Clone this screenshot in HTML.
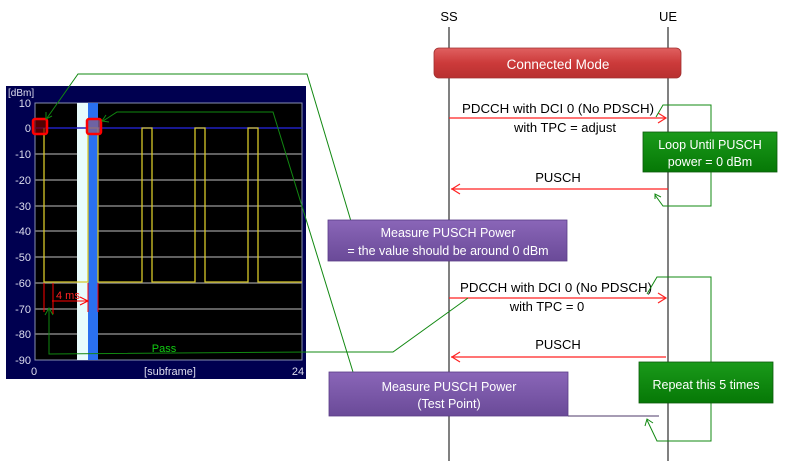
<!DOCTYPE html>
<html><head><meta charset="utf-8"><style>
html,body{margin:0;padding:0;background:#fff;width:787px;height:469px;overflow:hidden}
svg{display:block;font-family:"Liberation Sans",sans-serif}
</style></head><body>
<svg width="787" height="469" viewBox="0 0 787 469" xmlns="http://www.w3.org/2000/svg">
<defs>
<linearGradient id="gr" x1="0" y1="0" x2="0" y2="1"><stop offset="0" stop-color="#e06060"/><stop offset="0.5" stop-color="#cc3a3a"/><stop offset="1" stop-color="#b83030"/></linearGradient>
<linearGradient id="gp" x1="0" y1="0" x2="0" y2="1"><stop offset="0" stop-color="#8a66b8"/><stop offset="1" stop-color="#6a4a98"/></linearGradient>
<linearGradient id="gg" x1="0" y1="0" x2="0" y2="1"><stop offset="0" stop-color="#1a9a1a"/><stop offset="1" stop-color="#067806"/></linearGradient>
</defs>
<!-- chart panel -->
<rect x="6" y="86" width="300" height="293" fill="#000050"/>
<rect x="35" y="103" width="267" height="257" fill="#000" stroke="#8890b0" stroke-width="1"/>
<g stroke="#808080" stroke-width="1.5">
<line x1="35" y1="154" x2="302" y2="154"/><line x1="35" y1="180" x2="302" y2="180"/>
<line x1="35" y1="206" x2="302" y2="206"/><line x1="35" y1="231" x2="302" y2="231"/>
<line x1="35" y1="257" x2="302" y2="257"/><line x1="35" y1="283" x2="302" y2="283"/>
<line x1="35" y1="309" x2="302" y2="309"/><line x1="35" y1="334" x2="302" y2="334"/>
</g>
<rect x="77" y="103" width="11" height="257" fill="#e8fcfc"/>
<rect x="88" y="103" width="10" height="257" fill="#2a70f0"/>
<line x1="35" y1="128" x2="302" y2="128" stroke="#2020c0" stroke-width="1.5"/>
<polyline fill="none" stroke="#d8c828" stroke-width="1.3" points="44,128 44,282 88,282 88,128 98,128 98,282 142,282 142,128 152,128 152,282 195,282 195,128 205,128 205,282 248,282 248,128 258,128 258,282 302,282"/>
<rect x="33" y="119" width="14" height="15" rx="2" fill="#700" fill-opacity="0.7" stroke="#f00" stroke-width="2.5"/>
<rect x="87" y="119" width="14" height="15" rx="2" fill="#806090" fill-opacity="0.8" stroke="#f00" stroke-width="2.5"/>
<g stroke="#f00" stroke-width="1" fill="none">
<line x1="44" y1="283" x2="44" y2="312"/><line x1="53" y1="283" x2="53" y2="314"/>
<line x1="88" y1="283" x2="88" y2="312"/><line x1="98" y1="283" x2="98" y2="312"/>
<line x1="52" y1="301" x2="88" y2="301"/><polyline points="80,297 88,301 80,305"/>
</g>
<text x="56" y="299" font-size="11" fill="#f22">4 ms</text>
<g font-size="11" fill="#dde" text-anchor="end">
<text x="31" y="107">10</text><text x="31" y="132">0</text><text x="31" y="158">-10</text>
<text x="31" y="184">-20</text><text x="31" y="210">-30</text><text x="31" y="235">-40</text>
<text x="31" y="261">-50</text><text x="31" y="287">-60</text><text x="31" y="313">-70</text>
<text x="31" y="338">-80</text><text x="31" y="364">-90</text>
</g>
<text x="8" y="96" font-size="10" fill="#dde">[dBm]</text>
<text x="34" y="375" font-size="11" fill="#dde" text-anchor="middle">0</text>
<text x="170" y="375" font-size="11" fill="#dde" text-anchor="middle">[subframe]</text>
<text x="298" y="375" font-size="11" fill="#dde" text-anchor="middle">24</text>
<text x="164" y="352" font-size="11" fill="#1c1" text-anchor="middle">Pass</text>

<!-- lifelines -->
<line x1="449" y1="27" x2="449" y2="461" stroke="#000" stroke-width="1"/>
<line x1="668" y1="27" x2="668" y2="461" stroke="#000" stroke-width="1"/>
<text x="449" y="21" font-size="13" text-anchor="middle">SS</text>
<text x="668" y="21" font-size="13" text-anchor="middle">UE</text>

<rect x="434" y="48" width="247" height="30" rx="5" fill="url(#gr)" stroke="#a03030" stroke-width="0.8"/>
<text x="558" y="69" font-size="13.5" fill="#fff" text-anchor="middle">Connected Mode</text>

<!-- messages -->
<g stroke="#f22" stroke-width="1.2" fill="none">
<line x1="449" y1="118" x2="666" y2="118"/><polyline points="658,113 666,118 658,123"/>
<line x1="451" y1="189" x2="668" y2="189"/><polyline points="460,184 452,189 460,194"/>
<line x1="449" y1="298" x2="666" y2="298"/><polyline points="658,293 666,298 658,303"/>
<line x1="451" y1="357" x2="666" y2="357"/><polyline points="460,352 452,357 460,362"/>
</g>
<g font-size="13" fill="#000" text-anchor="middle">
<text x="558" y="113" textLength="192" lengthAdjust="spacingAndGlyphs">PDCCH with DCI 0 (No PDSCH)</text>
<text x="565" y="132">with TPC = adjust</text>
<text x="558" y="182">PUSCH</text>
<text x="556" y="292" textLength="192" lengthAdjust="spacingAndGlyphs">PDCCH with DCI 0 (No PDSCH)</text>
<text x="547" y="311">with TPC = 0</text>
<text x="558" y="349">PUSCH</text>
</g>

<!-- green connectors -->
<g stroke="#118811" stroke-width="1" fill="none">
<polyline points="656,117 663,105 711,105 711,206 663,206 655,195"/>
<polyline points="655,199 655,194 661,197"/>
<polyline points="647,294 657,277 711,277 711,441 657,441 647,420"/>
<polyline points="645,426 647,419 653,423"/>
<polyline points="353,228 307,74 78,74 47,118"/>
<polyline points="46,112 46,119 52,116"/>
<polyline points="353,372 273,112 117,112 103,121"/>
<polyline points="106,115 102,121 109,122"/>
<polyline points="468,298 393,352 310,352 49,354 49,308"/>
<polyline points="45,315 49,308 53,315"/>
</g>
<line x1="568" y1="416" x2="659" y2="416" stroke="#706088" stroke-width="1.2"/>

<!-- boxes -->
<rect x="643" y="132" width="134" height="40" fill="url(#gg)" stroke="#0a5a0a" stroke-width="0.8"/>
<text x="710" y="149" font-size="12.5" fill="#fff" text-anchor="middle">Loop Until PUSCH</text>
<text x="710" y="166" font-size="12.5" fill="#fff" text-anchor="middle">power = 0 dBm</text>
<rect x="639" y="362" width="134" height="41" fill="url(#gg)" stroke="#0a5a0a" stroke-width="0.8"/>
<text x="706" y="389" font-size="12.5" fill="#fff" text-anchor="middle">Repeat this 5 times</text>

<rect x="328" y="220" width="239" height="41" fill="url(#gp)" stroke="#5a3c88" stroke-width="0.8"/>
<text x="448" y="237" font-size="12.5" fill="#fff" text-anchor="middle">Measure PUSCH Power</text>
<text x="448" y="255" font-size="12.5" fill="#fff" text-anchor="middle">= the value should be around 0 dBm</text>
<rect x="329" y="372" width="239" height="44" fill="url(#gp)" stroke="#5a3c88" stroke-width="0.8"/>
<text x="449" y="391" font-size="12.5" fill="#fff" text-anchor="middle">Measure PUSCH Power</text>
<text x="449" y="408" font-size="12.5" fill="#fff" text-anchor="middle">(Test Point)</text>
</svg>
</body></html>
